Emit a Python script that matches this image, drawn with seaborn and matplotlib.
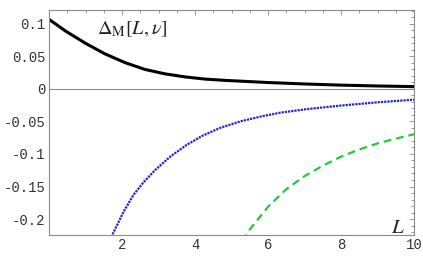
import numpy as np
import pandas as pd
import matplotlib
matplotlib.use("Agg")
import matplotlib.pyplot as plt
import matplotlib.ticker as mtick
import seaborn as sns

# ── Data ──────────────────────────────────────────────────────────────────────
L_black = [0, 0.44, 0.99, 1.53, 2.08, 2.63, 3.18, 3.73, 4.27, 4.82, 6, 7, 8, 9, 10]
d_black = [0.107, 0.0895, 0.0705, 0.054, 0.0405, 0.030, 0.0232, 0.0185, 0.0152,
           0.0132, 0.0099, 0.0077, 0.0059, 0.0046, 0.0036]

L_blue = [1.7, 2.04, 2.31, 2.58, 2.9, 3.32, 3.77, 4.2, 4.68, 5.23, 5.78,
          6.33, 7.06, 8, 9, 10]
d_blue = [-0.228, -0.189, -0.163, -0.144, -0.125, -0.104, -0.086, -0.072,
          -0.060, -0.050, -0.0426, -0.0365, -0.031, -0.0255, -0.0205, -0.0165]

L_green = [5.3, 5.5, 6, 6.5, 7, 7.5, 8, 8.5, 9, 9.5, 10]
d_green = [-0.234, -0.216, -0.181, -0.154, -0.134, -0.118, -0.104, -0.093,
           -0.0837, -0.0763, -0.0697]

x_ticks = [2, 4, 6, 8, 10]
y_ticks = [0.1, 0.05, 0, -0.05, -0.1, -0.15, -0.2]
y_labels = ["0.1", "0.05", "0", "-0.05", "-0.1", "-0.15", "-0.2"]

FRAME = "#8a8a8a"

sns.set_style("white")
plt.rcParams["font.family"] = ["Liberation Mono", "DejaVu Sans Mono"]
plt.rcParams["mathtext.fontset"] = "stix"

fig = plt.figure(figsize=(4.23, 2.62), dpi=100)
ax = fig.add_axes([0.116, 0.103, 0.863, 0.859])

sns.lineplot(x=L_black, y=d_black, ax=ax, color="black", lw=2.2)
sns.lineplot(x=L_blue, y=d_blue, ax=ax, color="#1f1fe6", lw=1.6,
             linestyle=(0, (1.0, 0.45)))
sns.lineplot(x=L_green, y=d_green, ax=ax, color="#22c93a", lw=1.6,
             linestyle=(0, (3.5, 2.2)))

ax.axhline(0, color=FRAME, lw=0.8, zorder=0)

ax.set_xlim(0, 10)
ax.set_ylim(-0.2246, 0.1215)

ax.set_xticks(x_ticks)
ax.set_xticklabels([str(t) for t in x_ticks])
ax.set_yticks(y_ticks)
ax.set_yticklabels(y_labels)
ax.xaxis.set_minor_locator(mtick.MultipleLocator(0.5))
ax.yaxis.set_minor_locator(mtick.MultipleLocator(0.01))

ax.tick_params(which="both", direction="in", top=True, right=True,
               color=FRAME, width=0.6, labelsize=10, labelcolor="#333333")
ax.tick_params(which="major", length=3.5, pad=2.5)
ax.tick_params(which="minor", length=2)

for s in ax.spines.values():
    s.set_color(FRAME)
    s.set_linewidth(0.8)

ax.text(1.3, 0.092, r"$\Delta_{\mathrm{M}}[L,\nu]$", fontsize=14.5,
        ha="left", va="center", color="#222222")
ax.text(9.75, -0.2125, r"$L$", fontsize=15, ha="right", va="center",
        color="#222222")

ax.set_xlabel("")
ax.set_ylabel("")
ax.grid(False)

fig.savefig("out.png", dpi=100)
